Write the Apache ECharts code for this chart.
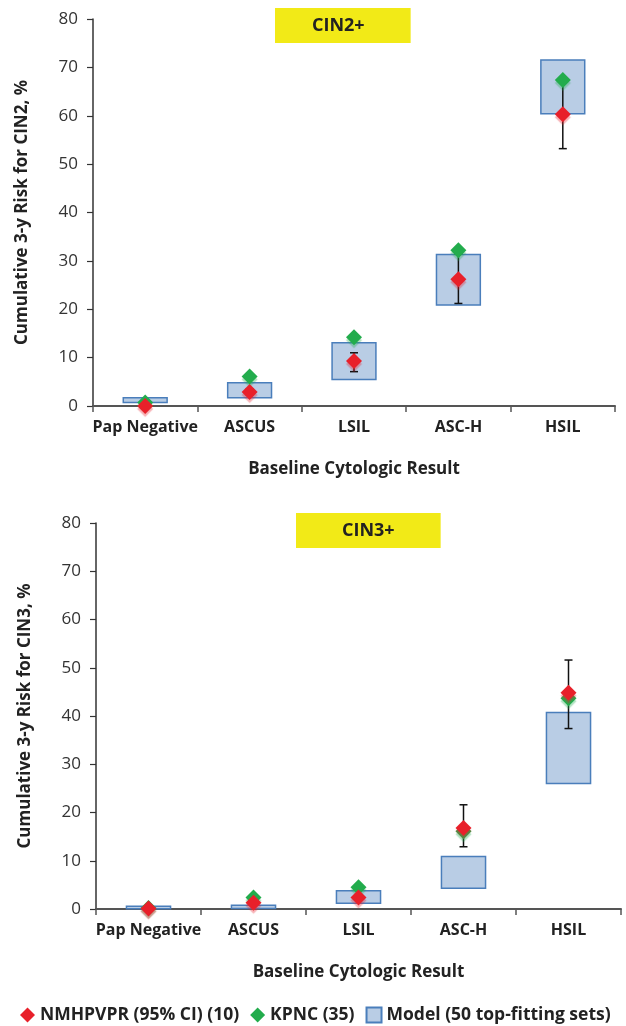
<!DOCTYPE html>
<html>
<head>
<meta charset="utf-8">
<script src="https://cdn.jsdelivr.net/npm/echarts@6/dist/echarts.min.js"></script>
<style>
  html, body { margin: 0; padding: 0; background: #fff; }
  #main { width: 626px; height: 1026px; }
</style>
</head>
<body>
<div id="main"></div>
<script>
// categories
const categories = ['Pap Negative', 'ASCUS', 'LSIL', 'ASC-H', 'HSIL'];

// CIN2+ panel
const cin2Nmhpvpr = [0, 2.9, 9.3, 26.2, 60.3];
const cin2CiLow = [0, 2.3, 7.1, 21.2, 53.2];
const cin2CiHigh = [0.5, 3.5, 11.0, 31.5, 67.0];
const cin2Kpnc = [0.7, 6.1, 14.2, 32.2, 67.4];
const cin2ModelLow = [0.7, 1.7, 5.5, 20.9, 60.4];
const cin2ModelHigh = [1.7, 4.8, 13.1, 31.3, 71.5];

// CIN3+ panel
const cin3Nmhpvpr = [0.1, 1.3, 2.4, 16.8, 44.8];
const cin3CiLow = [0, 0.8, 1.9, 12.9, 37.4];
const cin3CiHigh = [0.4, 1.8, 2.9, 21.6, 51.6];
const cin3Kpnc = [0.2, 2.4, 4.5, 16.1, 43.7];
const cin3ModelLow = [0.05, 0.1, 1.2, 4.3, 26.0];
const cin3ModelHigh = [0.55, 0.8, 3.8, 10.9, 40.7];

const yTicks = [0, 10, 20, 30, 40, 50, 60, 70, 80];

const FONT = '"Open Sans", "Noto Sans", sans-serif';
const RED = '#e8202a';
const GREEN = '#22ac4c';
const BOX_FILL = '#b9cde5';
const BOX_LINE = '#4a7ebb';

const chart = echarts.init(document.getElementById('main'));

function boxSeries(idx, low, high) {
  return {
    name: 'Model (50 top-fitting sets)',
    type: 'custom',
    xAxisIndex: idx,
    yAxisIndex: idx,
    z: 2,
    itemStyle: { color: BOX_FILL, borderColor: BOX_LINE, borderWidth: 1.5 },
    encode: { x: 0, y: [1, 2] },
    data: low.map((v, i) => [i, v, high[i]]),
    renderItem: function (params, api) {
      const top = api.coord([api.value(0), api.value(2)]);
      const bot = api.coord([api.value(0), api.value(1)]);
      const w = api.size([1, 0])[0] * 0.42;
      return {
        type: 'rect',
        shape: { x: top[0] - w / 2, y: top[1], width: w, height: bot[1] - top[1] },
        style: { fill: BOX_FILL, stroke: BOX_LINE, lineWidth: 1.5 }
      };
    }
  };
}

function errSeries(idx, low, high) {
  return {
    name: 'ci',
    type: 'custom',
    xAxisIndex: idx,
    yAxisIndex: idx,
    z: 3,
    encode: { x: 0, y: [1, 2] },
    data: low.map((v, i) => [i, v, high[i]]),
    renderItem: function (params, api) {
      const hi = api.coord([api.value(0), api.value(2)]);
      const lo = api.coord([api.value(0), api.value(1)]);
      const c = 4;
      const st = { stroke: '#111', lineWidth: 1.5 };
      return {
        type: 'group',
        children: [
          { type: 'line', shape: { x1: hi[0], y1: hi[1], x2: lo[0], y2: lo[1] }, style: st },
          { type: 'line', shape: { x1: hi[0] - c, y1: hi[1], x2: hi[0] + c, y2: hi[1] }, style: st },
          { type: 'line', shape: { x1: lo[0] - c, y1: lo[1], x2: lo[0] + c, y2: lo[1] }, style: st }
        ]
      };
    }
  };
}

function pointSeries(idx, name, color, values, z) {
  return {
    name: name,
    type: 'scatter',
    xAxisIndex: idx,
    yAxisIndex: idx,
    symbol: 'diamond',
    symbolSize: 16,
    z: z,
    clip: false,
    itemStyle: {
      color: color,
      opacity: 1,
      shadowColor: color === RED ? 'rgba(232,32,42,0.35)' : 'rgba(34,172,76,0.35)',
      shadowOffsetY: 3,
      shadowBlur: 1
    },
    data: values
  };
}

function xAxisCfg(idx) {
  return {
    type: 'category',
    gridIndex: idx,
    data: categories,
    boundaryGap: true,
    name: 'Baseline Cytologic Result',
    nameLocation: 'middle',
    nameGap: 55,
    nameTextStyle: { fontFamily: FONT, fontSize: 17, fontWeight: 'bold', color: '#222' },
    axisLine: { lineStyle: { color: '#555', width: 2 } },
    axisTick: { show: true, length: 6, lineStyle: { color: '#555', width: 1.5 } },
    axisLabel: { interval: 0, margin: 13, fontFamily: FONT, fontSize: 16, fontWeight: 'bold', color: '#222' },
    splitLine: { show: false }
  };
}

function yAxisCfg(idx, name) {
  return {
    type: 'value',
    gridIndex: idx,
    min: yTicks[0],
    max: yTicks[yTicks.length - 1],
    interval: yTicks[1] - yTicks[0],
    name: name,
    nameLocation: 'middle',
    nameGap: 62,
    nameTextStyle: { fontFamily: FONT, fontSize: 17, fontWeight: 'bold', color: '#222' },
    axisLine: { show: true, lineStyle: { color: '#333', width: 1.5 } },
    axisTick: { show: true, length: 6, lineStyle: { color: '#333', width: 1.2 } },
    axisLabel: { margin: 15, fontFamily: FONT, fontSize: 17, color: '#333' },
    splitLine: { show: false }
  };
}

const option = {
  backgroundColor: '#fff',
  animation: false,
  title: [
    {
      text: 'CIN2+',
      left: 275,
      top: 8,
      backgroundColor: '#f2ea17',
      padding: [8, 46, 7, 37],
      textStyle: { fontFamily: FONT, fontSize: 18, fontWeight: 'bold', color: '#222', lineHeight: 20 }
    },
    {
      text: 'CIN3+',
      left: 296,
      top: 513,
      backgroundColor: '#f2ea17',
      padding: [8, 46, 7, 46],
      textStyle: { fontFamily: FONT, fontSize: 18, fontWeight: 'bold', color: '#222', lineHeight: 20 }
    }
  ],
  legend: {
    left: 20,
    right: 0,
    top: 1006,
    padding: 0,
    itemGap: 11,
    itemWidth: 15,
    itemHeight: 15,
    textStyle: { fontFamily: FONT, fontSize: 17.5, fontWeight: 'bold', color: '#222' },
    data: [
      { name: 'NMHPVPR (95% CI) (10)', icon: 'diamond' },
      { name: 'KPNC (35)', icon: 'diamond' },
      { name: 'Model (50 top-fitting sets)', icon: 'rect' }
    ]
  },
  grid: [
    { left: 93, top: 19, width: 522, height: 387 },
    { left: 96, top: 523, width: 525, height: 386 }
  ],
  xAxis: [xAxisCfg(0), xAxisCfg(1)],
  yAxis: [
    yAxisCfg(0, 'Cumulative 3-y Risk for CIN2, %'),
    yAxisCfg(1, 'Cumulative 3-y Risk for CIN3, %')
  ],
  series: [
    boxSeries(0, cin2ModelLow, cin2ModelHigh),
    errSeries(0, cin2CiLow, cin2CiHigh),
    pointSeries(0, 'KPNC (35)', GREEN, cin2Kpnc, 4),
    pointSeries(0, 'NMHPVPR (95% CI) (10)', RED, cin2Nmhpvpr, 5),
    boxSeries(1, cin3ModelLow, cin3ModelHigh),
    errSeries(1, cin3CiLow, cin3CiHigh),
    pointSeries(1, 'KPNC (35)', GREEN, cin3Kpnc, 4),
    pointSeries(1, 'NMHPVPR (95% CI) (10)', RED, cin3Nmhpvpr, 5)
  ]
};

chart.setOption(option);
</script>
</body>
</html>
